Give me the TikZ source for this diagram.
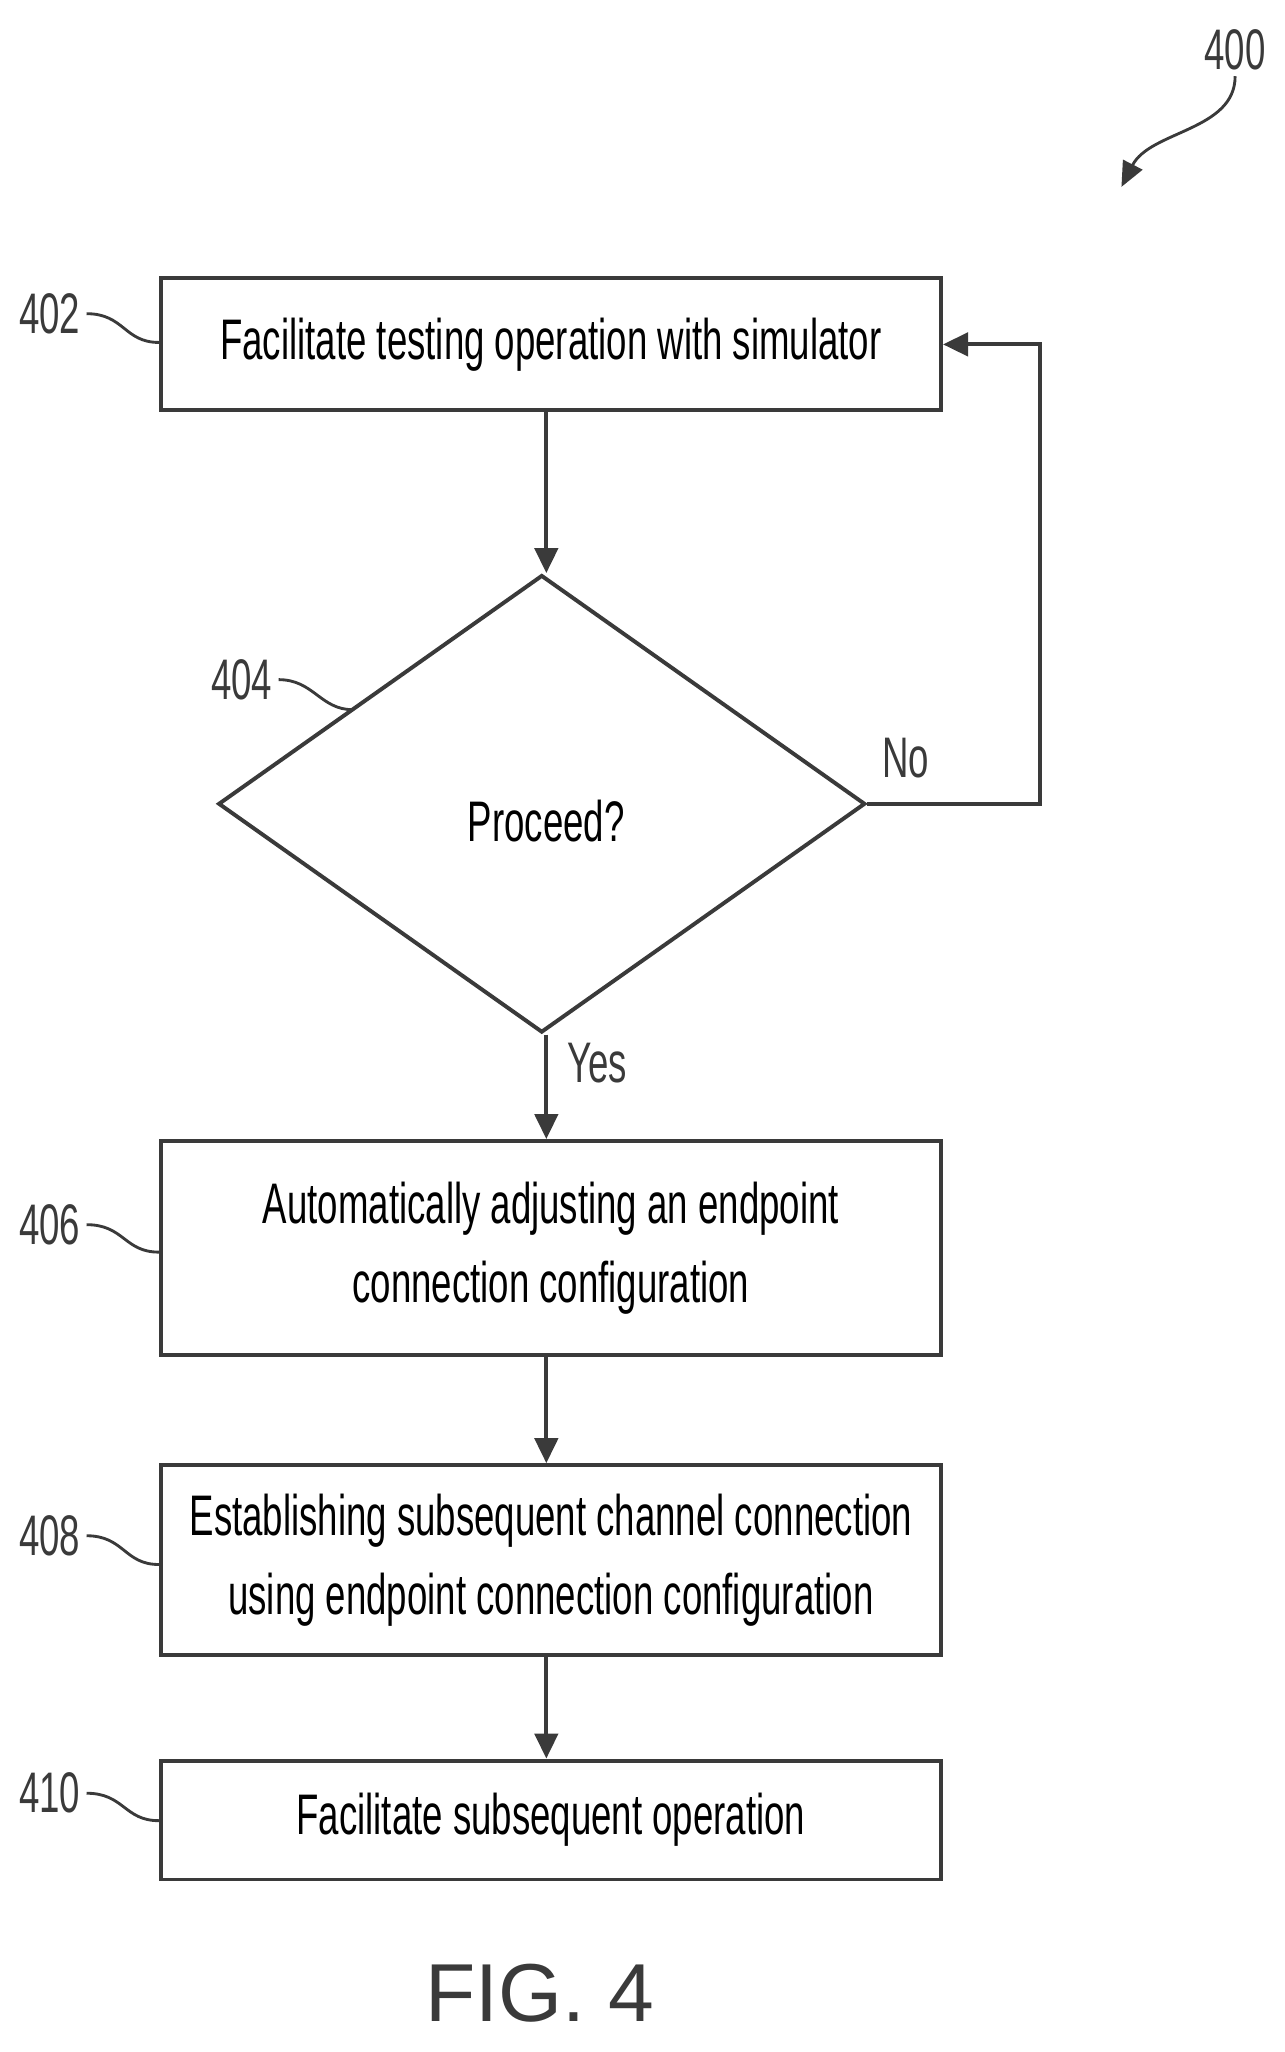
\documentclass[tikz,border=0pt]{standalone}
\usepackage{fontspec}
\setmainfont{Liberation Sans}[FakeStretch=0.64]
\newfontfamily\figfont{Liberation Sans}
\usetikzlibrary{shapes.geometric,arrows.meta}
\definecolor{inkgray}{HTML}{3A3A3A}
\tikzset{
  box/.style={draw=inkgray, line width=2.2pt, rectangle, minimum width=597*0.0257cm, align=center, font=\fontsize{32}{44}\selectfont, inner sep=0pt},
  dec/.style={draw=inkgray, line width=2.2pt, diamond, aspect=1.414, minimum width=495*0.0257cm, minimum height=350*0.0257cm, inner sep=0pt},
  flow/.style={draw=inkgray, line width=2.2pt, -{Triangle[length=14pt,width=13pt]}},
  refnum/.style={font=\fontsize{32}{40}\selectfont, text=inkgray},
  lead/.style={draw=inkgray, line width=1.6pt}
}
\begin{document}
\begin{tikzpicture}[x=0.0257cm, y=-0.0257cm]
\useasboundingbox (0,0) rectangle (983,1570);

\node[box, minimum height=101*0.0257cm] (b402) at (421.5,263.5) {Facilitate testing operation with simulator};
\node[dec] (d404) at (414.5,615) {};
\node[font=\fontsize{32}{40}\selectfont] (t404) at (418,628) {Proceed?};
\node[box, minimum height=164*0.0257cm] (b406) at (421.5,955) {Automatically adjusting an endpoint\\connection configuration};
\node[box, minimum height=145*0.0257cm] (b408) at (421.5,1193.5) {Establishing subsequent channel connection\\using endpoint connection configuration};
\node[box, minimum height=91*0.0257cm] (b410) at (421.5,1392.5) {Facilitate subsequent operation};

\draw[flow] (b402.south -| 418,0) -- (d404.north -| 418,0);
\draw[flow] (d404.south -| 418,0) -- (b406.north -| 418,0);
\draw[flow] (b406.south -| 418,0) -- (b408.north -| 418,0);
\draw[flow] (b408.south -| 418,0) -- (b410.north -| 418,0);
\coordinate (loop) at (796,615);
\draw[flow] (d404.east) -- (loop) -- (loop |- b402.east) -- (b402.east);
\node[refnum] (no) at (693,580) {No};
\node[refnum] (yes) at (457,813) {Yes};

% reference numerals
\node[refnum] (r400) at (945,38) {400};
\node[refnum] (r402) at (38,240) {402};
\node[refnum] (r404) at (185,520) {404};
\node[refnum] (r406) at (38,937) {406};
\node[refnum] (r408) at (38,1175) {408};
\node[refnum] (r410) at (38,1372) {410};
\coordinate (a400) at (858,143);
\draw[lead, -{Triangle[length=14pt,width=12pt]}] (r400.south) .. controls (945,100) and (880,100) .. (a400);
\draw[lead] (r402.east) .. controls (95,240) and (95,262) .. (b402.west |- 0,262);
\draw[lead] (r404.east) .. controls (240,520) and (245,543) .. (270,543);
\draw[lead] (r406.east) .. controls (95,937) and (95,958) .. (b406.west |- 0,958);
\draw[lead] (r408.east) .. controls (95,1175) and (95,1197) .. (b408.west |- 0,1197);
\draw[lead] (r410.east) .. controls (95,1372) and (95,1393) .. (b410.west |- 0,1393);

\node[font=\figfont\fontsize{46}{54}\selectfont, text=inkgray] (fig) at (413,1525) {FIG. 4};
\end{tikzpicture}
\end{document}
